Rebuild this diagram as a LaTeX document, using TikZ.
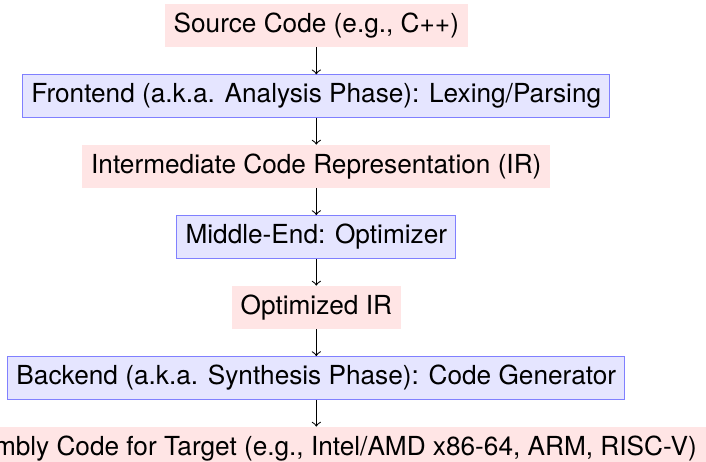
\documentclass[tikz,border=0pt]{standalone}
\usepackage{fontspec}
\setmainfont{TeX Gyre Heros}
\begin{document}
\begin{tikzpicture}[
  x=1pt, y=1pt,
  datanode/.style={fill=red!10, inner sep=0.3333em},
  phasenode/.style={fill=blue!10, draw=blue!50, inner sep=0.3333em},
  flow/.style={->}
]
% page frame, cutting off the wide last line at both sides
\clip (-120.7,9.73) rectangle (148.7,-166.2);
\def\dy{26.9}
\node[datanode]  (src)  at (0,0)       {Source Code (e.g., C++)};
\node[phasenode] (fe)   at (0,-\dy)    {Frontend (a.k.a. Analysis Phase): Lexing/Parsing};
\node[datanode]  (ir)   at (0,-2*\dy)  {Intermediate Code Representation (IR)};
\node[phasenode] (me)   at (0,-3*\dy)  {Middle-End: Optimizer};
\node[datanode]  (oir)  at (0,-4*\dy)  {Optimized IR};
\node[phasenode] (be)   at (0,-5*\dy)  {Backend (a.k.a. Synthesis Phase): Code Generator};
\node[datanode]  (asm)  at (0,-6*\dy)  {Assembly Code for Target (e.g., Intel/AMD x86-64, ARM, RISC-V)};
\draw[flow] (src) -- (fe);
\draw[flow] (fe) -- (ir);
\draw[flow] (ir) -- (me);
\draw[flow] (me) -- (oir);
\draw[flow] (oir) -- (be);
\draw[flow] (be) -- (asm);
\end{tikzpicture}
\end{document}
